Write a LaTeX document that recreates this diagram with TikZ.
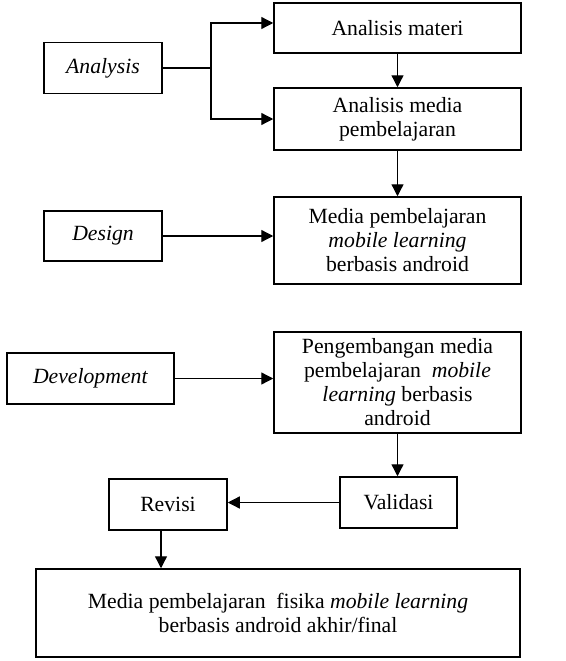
\documentclass[tikz,border=0pt]{standalone}
\usepackage{fontspec}
\setmainfont{Liberation Serif}
\usetikzlibrary{arrows.meta}
\begin{document}
\begin{tikzpicture}[x=1pt,y=-1pt,
  box/.style={draw,line width=1.5pt,inner sep=0pt,align=center,font=\fontsize{21.7}{24}\selectfont},
  arr/.style={line width=1.3pt,-{Triangle[length=12pt,width=12pt]}},
  ln/.style={line width=1.3pt}]
\useasboundingbox (0,0) rectangle (565,661);
\node[box,minimum width=247pt,minimum height=50pt] (materi) at (397.5,28) {Analisis materi};
\node[box,minimum width=247pt,minimum height=62pt] (media) at (397.5,119) {Analisis media\\pembelajaran};
\node[box,minimum width=247pt,minimum height=87pt] (mpb) at (397.5,240.5) {Media pembelajaran\\\textit{mobile learning}\\berbasis android};
\node[box,minimum width=247pt,minimum height=101pt] (peng) at (397.5,382.5) {Pengembangan media\\pembelajaran \ \textit{mobile}\\\textit{learning} berbasis\\android};
\node[box,minimum width=117pt,minimum height=51pt] (valid) at (398.5,502.5) {Validasi};
\node[box,minimum width=118pt,minimum height=51pt] (revisi) at (168,504.5) {Revisi};
\node[box,minimum width=484pt,minimum height=88pt] (final) at (278,613) {Media pembelajaran \ fisika \textit{mobile learning}\\berbasis android akhir/final};
\node[box,minimum width=118pt,minimum height=51pt] (analysis) at (103,68) {\textit{Analysis}};
\node[box,minimum width=118pt,minimum height=50pt] (design) at (103,236) {\textit{Design}};
\node[box,minimum width=167pt,minimum height=51pt] (devel) at (90.5,378.5) {\textit{Development}};
\coordinate (branch) at (211,68);
\draw[ln] (analysis.east) -- (branch);
\draw[arr] (branch) |- ([yshift=5pt]materi.west);
\draw[arr] (branch) |- (media.west);
\draw[arr] (materi.south) -- (media.north);
\draw[arr] (media.south) -- (mpb.north);
\draw[arr] (design.east) -- (design.east -| mpb.west);
\draw[arr] (devel.east) -- (devel.east -| peng.west);
\draw[arr] (peng.south) -- (peng.south |- valid.north);
\draw[arr] (valid.west) -- (valid.west -| revisi.east);
\coordinate (rs) at ([xshift=-7pt]revisi.south);
\draw[arr] (rs) -- (rs |- final.north);
\end{tikzpicture}
\end{document}
